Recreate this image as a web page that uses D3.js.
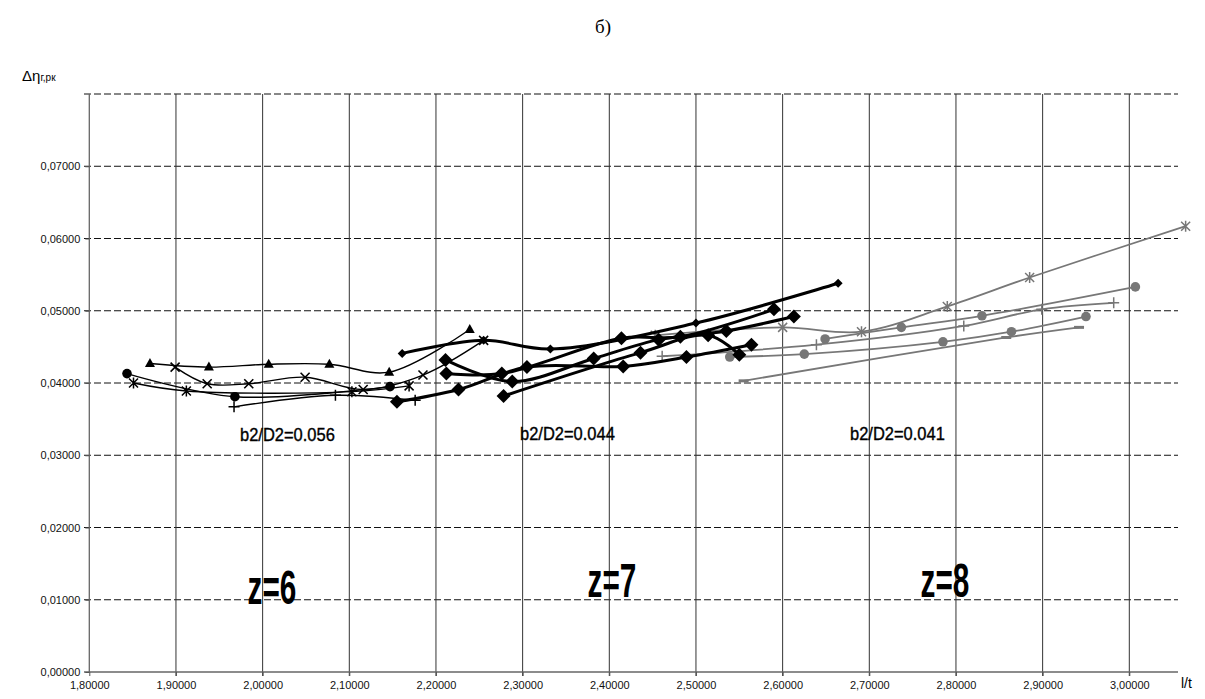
<!DOCTYPE html>
<html><head><meta charset="utf-8">
<script src="https://cdn.jsdelivr.net/npm/d3@7"></script>
<style>body{margin:0;background:#fff}svg{display:block}</style>
</head><body>
<svg id="c" width="1205" height="699"></svg>
<script>
// ---- data ----
const xTicks = [1.8,1.9,2.0,2.1,2.2,2.3,2.4,2.5,2.6,2.7,2.8,2.9,3.0];
const yTicks = [0,0.01,0.02,0.03,0.04,0.05,0.06,0.07];
const xTickLabels = ["1,80000","1,90000","2,00000","2,10000","2,20000","2,30000","2,40000","2,50000","2,60000","2,70000","2,80000","2,90000","3,00000"];
const yTickLabels = ["0,00000","0,01000","0,02000","0,03000","0,04000","0,05000","0,06000","0,07000"];

// z=6 (thin black)
const z6Triangle = [[1.870,0.0427],[1.938,0.0422],[2.007,0.0426],[2.077,0.0426],[2.146,0.0415],[2.239,0.0474]];
const z6Cross    = [[1.899,0.0422],[1.936,0.0399],[1.984,0.0399],[2.049,0.0408],[2.116,0.0391],[2.185,0.0411],[2.255,0.0459]];
const z6Star     = [[1.851,0.0400],[1.912,0.0389],[2.103,0.0388],[2.169,0.0396]];
const z6Circle   = [[1.8435,0.0413],[1.968,0.0381],[2.147,0.0395]];
const z6Plus     = [[1.967,0.0367],[2.084,0.0383],[2.176,0.0376]];

// z=7 (thick black, diamonds)
const z7Small = [[2.161,0.0441],[2.255,0.0459],[2.332,0.0447],[2.500,0.0483],[2.664,0.0538]];
const z7D1 = [[2.155,0.0374],[2.226,0.0391],[2.305,0.0422],[2.416,0.0423],[2.489,0.0436],[2.564,0.0453]];
const z7D2 = [[2.211,0.0432],[2.288,0.0402],[2.382,0.0434],[2.457,0.0460],[2.535,0.0472],[2.613,0.0492]];
const z7D3 = [[2.212,0.0413],[2.276,0.0413],[2.414,0.0462],[2.482,0.0464],[2.590,0.0502]];
const z7D4 = [[2.278,0.0382],[2.436,0.0442],[2.514,0.0466],[2.550,0.0439]];

// z=8 (grey)
const z8Star    = [[2.453,0.0466],[2.600,0.0477],[2.691,0.0471],[2.790,0.0506],[2.885,0.0546],[3.065,0.0617]];
const z8CircleA = [[2.539,0.0436],[2.625,0.0440],[2.785,0.0457],[2.864,0.0471],[2.950,0.0492]];
const z8CircleB = [[2.649,0.0461],[2.737,0.0477],[2.830,0.0493],[3.007,0.0533]];
const z8Plus    = [[2.461,0.0437],[2.639,0.0453],[2.809,0.0479],[2.899,0.0502],[2.982,0.0511]];
const z8Dash    = [[2.555,0.0403],[2.858,0.0463],[2.942,0.0477]];

// annotation texts
const ratioLabels = ["b2/D2=0.056","b2/D2=0.044","b2/D2=0.041"];
const zLabels = ["z=6","z=7","z=8"];

// ---- chart ----
const svg = d3.select("#c");
const x = d3.scaleLinear().domain([1.8,3.0]).range([89.3,1129.3]);
const y = d3.scaleLinear().domain([0,0.08]).range([672,94]);
const xEnd = 1178;

// horizontal dashed grid
const hg = [0.01,0.02,0.03,0.04,0.05,0.06,0.07,0.08];
svg.append("g").selectAll("line").data(hg).join("line")
  .attr("x1",84).attr("x2",xEnd).attr("y1",d=>y(d)).attr("y2",d=>y(d))
  .attr("stroke","#111").attr("stroke-width",1).attr("stroke-dasharray","7,3");
// vertical grid
svg.append("g").selectAll("line").data(xTicks.slice(1)).join("line")
  .attr("x1",d=>x(d)).attr("x2",d=>x(d)).attr("y1",y(0.08)).attr("y2",y(0)+4)
  .attr("stroke","#333").attr("stroke-width",1);

// axes
const xAxis = d3.axisBottom(x).tickValues(xTicks).tickSize(4).tickFormat((d,i)=>xTickLabels[i]);
const gx = svg.append("g").attr("transform",`translate(0,${y(0)})`).call(xAxis);
gx.select(".domain").attr("d",`M84,0H${xEnd}`).attr("stroke","#666").attr("stroke-width",1.3);
gx.selectAll(".tick line").attr("stroke","#555");
gx.selectAll("text").attr("font-family","Liberation Sans, Arial, sans-serif").attr("font-size",11).attr("fill","#111").attr("dy","0.9em");

const yAxis = d3.axisLeft(y).tickValues(yTicks).tickSize(4).tickFormat((d,i)=>yTickLabels[i]);
const gy = svg.append("g").attr("transform",`translate(${x(1.8)},0)`).call(yAxis);
gy.select(".domain").attr("d",`M0,${y(0.08)}V${y(0)}`).attr("stroke","#666").attr("stroke-width",1.3);
gy.selectAll(".tick line").attr("stroke","#555");
gy.selectAll("text").attr("font-family","Liberation Sans, Arial, sans-serif").attr("font-size",11).attr("fill","#111").attr("x",-9);

// line helper
const curve = d3.curveCatmullRom.alpha(0.5);
const lineGen = d3.line().x(d=>x(d[0])).y(d=>y(d[1])).curve(curve);
function series(data, color, width, marker){
  svg.append("path").datum(data).attr("d",lineGen).attr("fill","none")
    .attr("stroke",color).attr("stroke-width",width).attr("stroke-linejoin","round");
  const g = svg.append("g");
  data.forEach(d=>{
    const px=x(d[0]), py=y(d[1]);
    marker(g.append("g").attr("transform",`translate(${px},${py})`), color);
  });
}
const M = {
  triangle:(g,c)=>g.append("path").attr("d","M0,-5.5L5,3.5L-5,3.5Z").attr("fill",c),
  cross:(g,c)=>g.append("path").attr("d","M-4.5,-4.5L4.5,4.5M-4.5,4.5L4.5,-4.5").attr("stroke",c).attr("stroke-width",1.6),
  star:(g,c)=>g.append("path").attr("d","M-4.5,-4.5L4.5,4.5M-4.5,4.5L4.5,-4.5M0,-5.5V5.5").attr("stroke",c).attr("stroke-width",1.5),
  circle:(g,c)=>g.append("circle").attr("r",4.8).attr("fill",c),
  plus:(g,c)=>g.append("path").attr("d","M-5.5,0H5.5M0,-5.5V5.5").attr("stroke",c).attr("stroke-width",1.5),
  diamond:(g,c)=>g.append("path").attr("d","M0,-7L7,0L0,7L-7,0Z").attr("fill",c),
  smallDiamond:(g,c)=>g.append("path").attr("d","M0,-4.5L4.5,0L0,4.5L-4.5,0Z").attr("fill",c),
  dash:(g,c)=>g.append("path").attr("d","M-5,0H5").attr("stroke",c).attr("stroke-width",3)
};

const grey="#777";
series(z8Dash,grey,1.8,M.dash);
series(z8Plus,grey,1.8,M.plus);
series(z8CircleA,grey,1.8,M.circle);
series(z8CircleB,grey,1.8,M.circle);
series(z8Star,grey,1.8,M.star);

series(z7D1,"#000",3,M.diamond);
series(z7D2,"#000",3,M.diamond);
series(z7D3,"#000",3,M.diamond);
series(z7D4,"#000",3,M.diamond);
series(z7Small,"#000",3,M.smallDiamond);

series(z6Plus,"#000",1.4,M.plus);
series(z6Circle,"#000",1.4,M.circle);
series(z6Star,"#000",1.4,M.star);
series(z6Cross,"#000",1.4,M.cross);
series(z6Triangle,"#000",1.4,M.triangle);

// texts
svg.append("text").attr("x",603).attr("y",33).attr("text-anchor","middle")
  .attr("font-family","Liberation Serif, Times New Roman, serif").attr("font-size",19).text("б)");
const yl = svg.append("text").attr("x",22).attr("y",81).attr("font-family","Liberation Sans, Arial, sans-serif").attr("font-size",15);
yl.append("tspan").text("Δη");
yl.append("tspan").attr("font-size",10).text("г,рк");
svg.append("text").attr("x",xEnd+3).attr("y",688).attr("font-family","Liberation Sans, Arial, sans-serif").attr("font-size",14).text("l/t");

const labPos = [[240,441],[520,440],[850,440]];
svg.append("g").selectAll("text").data(ratioLabels).join("text")
  .attr("transform",(d,i)=>`translate(${labPos[i][0]},${labPos[i][1]}) scale(0.97,1.05)`)
  .attr("font-family","Liberation Sans, Arial, sans-serif").attr("font-size",17)
  .attr("stroke","#000").attr("stroke-width",0.35).text(d=>d);
const zPos = [[272,604],[612,597],[945,597]];
svg.append("g").selectAll("text").data(zLabels).join("text")
  .attr("transform",(d,i)=>`translate(${zPos[i][0]},${zPos[i][1]}) scale(0.62,1)`).attr("text-anchor","middle")
  .attr("font-family","Liberation Sans, Arial, sans-serif").attr("font-weight","bold").attr("font-size",48).text(d=>d);
</script>
</body></html>
